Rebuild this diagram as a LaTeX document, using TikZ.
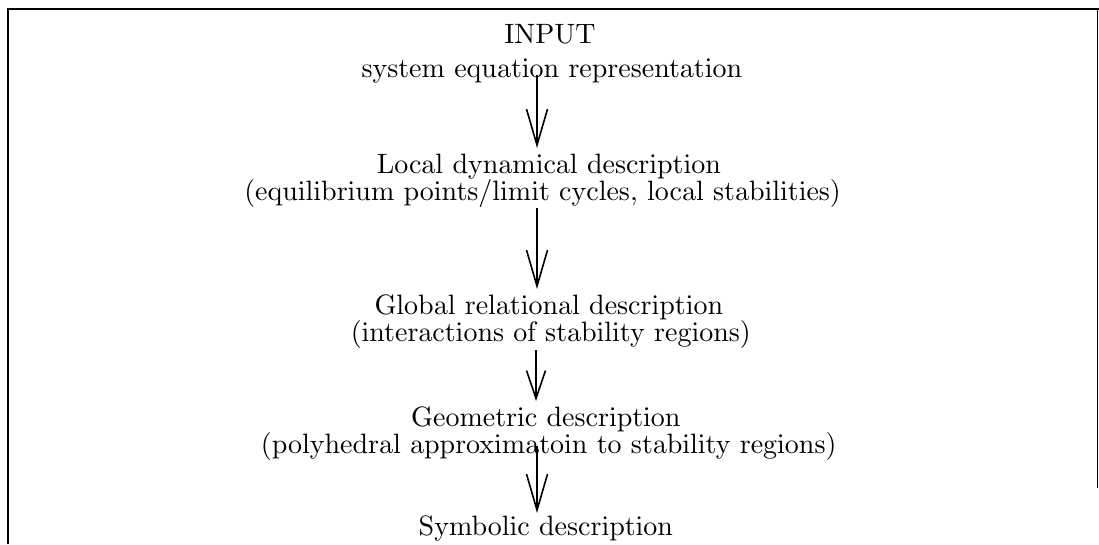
\documentclass[tikz,border=0pt]{standalone}
\usetikzlibrary{arrows.meta}
\font\tfont=cmr10 at 28pt
\begin{document}
\begin{tikzpicture}[x=1pt,y=-1pt,
  lbl/.style={inner sep=0pt,anchor=base,font=\tfont},
  arr/.style={line width=1.8pt,-{Straight Barb[length=36pt,width=21pt,line width=1.6pt]}},
  frame/.style={line width=2.6pt}]
\useasboundingbox (0,0) rectangle (1099,544);
% frame
\coordinate (tl) at (8,9);
\coordinate (tr) at (1099,9);
\coordinate (bl) at (8,544);
\coordinate (rt) at (1097.5,9);
\coordinate (rb) at (1097.5,488);
\draw[frame] (bl) -- (tl) -- (tr);
\draw[line width=1.2pt] (rt) -- (rb);
% texts (anchored at baseline)
\node[lbl] (in) at (550,43) {INPUT};
\node[lbl] (sys) at (552,77) {system equation representation};
\node[lbl] (loc) at (549,173) {Local dynamical description};
\node[lbl] (loc2) at (543,200) {(equilibrium points/limit cycles, local stabilities)};
\node[lbl] (glo) at (549,314) {Global relational description};
\node[lbl] (glo2) at (551,341) {(interactions of stability regions)};
\node[lbl] (geo) at (546,426) {Geometric description};
\node[lbl] (geo2) at (549,453) {(polyhedral approximatoin to stability regions)};
\node[lbl] (sym) at (546,535) {Symbolic description};
% arrows
\coordinate (a1s) at (537,75);
\coordinate (a1e) at (537,148);
\coordinate (a2s) at (537,208);
\coordinate (a2e) at (537,289);
\coordinate (a3s) at (536,350);
\coordinate (a3e) at (536,401);
\coordinate (a4s) at (537,446);
\coordinate (a4e) at (537,513);
\draw[arr] (a1s) -- (a1e);
\draw[arr] (a2s) -- (a2e);
\draw[arr,-{Straight Barb[length=28pt,width=19pt,line width=1.6pt]}] (a3s) -- (a3e);
\draw[arr] (a4s) -- (a4e);
\end{tikzpicture}
\end{document}
